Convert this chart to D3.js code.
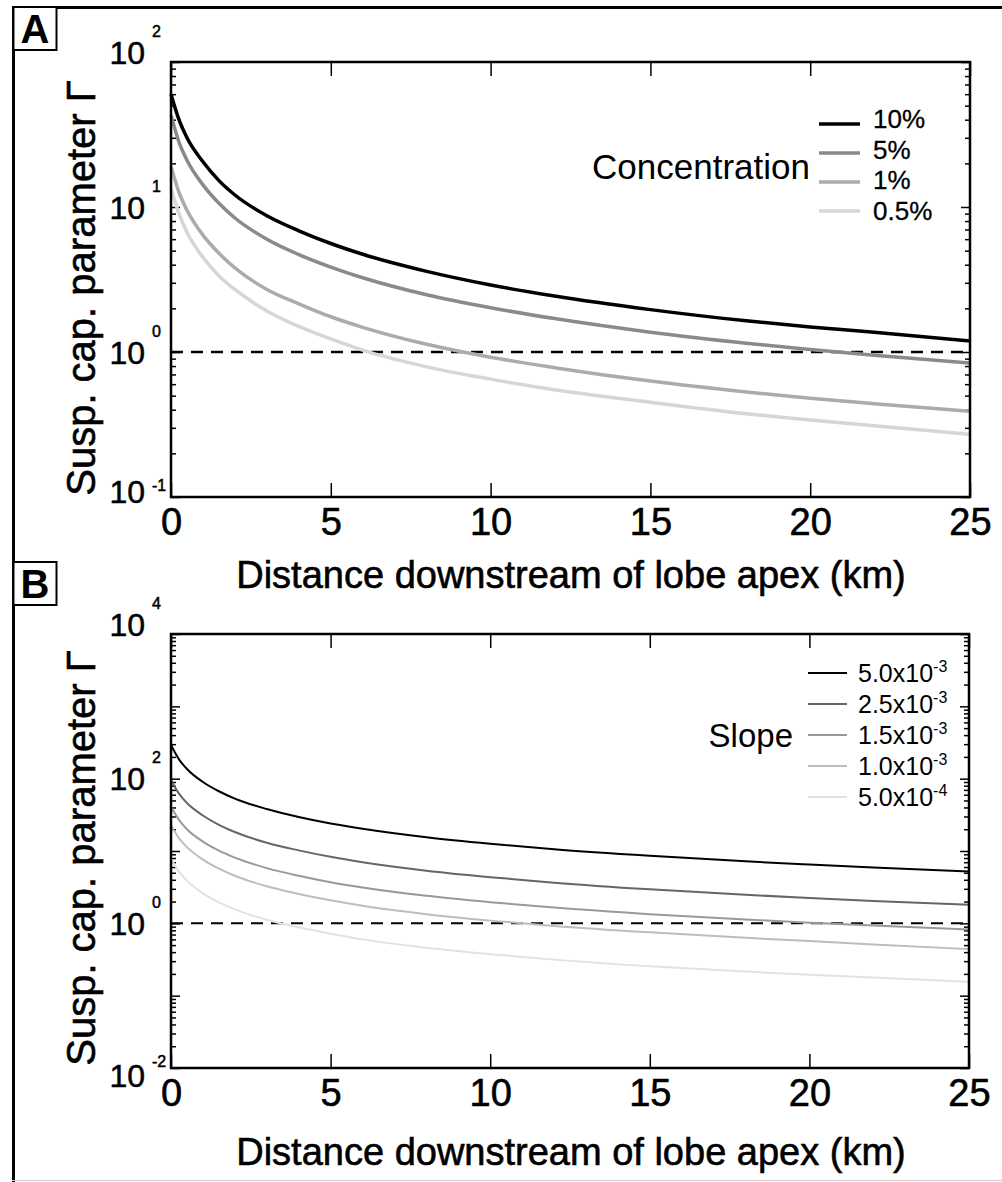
<!DOCTYPE html>
<html>
<head>
<meta charset="utf-8">
<script src="https://cdn.jsdelivr.net/npm/d3@7"></script>
<style>
  body { margin: 0; background: #fff; }
  svg { display: block; font-family: "Liberation Sans", Arial, sans-serif; }
</style>
</head>
<body>
<div id="chart"></div>
<script>
// distance downstream of lobe apex (km), shared by every curve
var distance = [0, 0.25, 0.5, 1, 1.5, 2, 3, 4, 5, 6, 8, 10, 12, 15, 18, 20, 22, 25];

// panel A: concentration
var concLabels = ["10%", "5%", "1%", "0.5%"];
var concColors = ["#000000", "#8a8a8a", "#ababab", "#d6d6d6"];
var conc10  = [60, 40, 30, 20.5, 15.2, 12.1, 8.7, 6.85, 5.6, 4.72, 3.6, 2.9, 2.43, 1.96, 1.64, 1.49, 1.37, 1.19];
var conc5   = [43, 28, 21, 14.2, 10.6, 8.4, 6.0, 4.7, 3.85, 3.25, 2.48, 2.02, 1.7, 1.37, 1.15, 1.04, 0.95, 0.84];
var conc1   = [19, 12.6, 9.5, 6.4, 4.8, 3.8, 2.7, 2.15, 1.75, 1.48, 1.13, 0.92, 0.78, 0.63, 0.53, 0.48, 0.44, 0.39];
var conc05  = [13.4, 9, 6.7, 4.5, 3.35, 2.7, 1.92, 1.5, 1.23, 1.03, 0.79, 0.65, 0.55, 0.45, 0.375, 0.34, 0.31, 0.27];

// panel B: slope
var slopeMant = ["5.0x10", "2.5x10", "1.5x10", "1.0x10", "5.0x10"];
var slopeExp = ["-3", "-3", "-3", "-3", "-4"];
var slopeColors = ["#000000", "#666666", "#999999", "#bdbdbd", "#e2e2e2"];
var slope50 = [292, 185, 136, 90, 67, 53, 38, 29.5, 24, 20.3, 15.5, 12.6, 10.6, 8.6, 7.2, 6.5, 5.9, 5.2];
var slope25 = [96, 62, 46, 31, 23, 18.3, 13, 10.2, 8.3, 7.0, 5.35, 4.35, 3.65, 2.95, 2.48, 2.24, 2.04, 1.8];
var slope15 = [40.5, 27, 20, 13.5, 10.1, 8.1, 5.8, 4.55, 3.7, 3.13, 2.4, 1.96, 1.65, 1.34, 1.13, 1.02, 0.93, 0.82];
var slope10 = [22.8, 15, 11.3, 7.6, 5.7, 4.55, 3.25, 2.55, 2.08, 1.75, 1.34, 1.09, 0.92, 0.75, 0.63, 0.57, 0.51, 0.44];
var slope05 = [7.8, 5.2, 3.9, 2.6, 1.95, 1.56, 1.12, 0.88, 0.72, 0.6, 0.46, 0.375, 0.315, 0.255, 0.215, 0.195, 0.178, 0.155];

var xTicks = [0, 5, 10, 15, 20, 25];
var yTicksA = [-1, 0, 1, 2];      // exponents
var yTicksB = [-2, 0, 2, 4];

var width = 1002, height = 1182;
var svg = d3.select("#chart").append("svg")
    .attr("width", width)
    .attr("height", height);

svg.append("rect").attr("width", width).attr("height", height).attr("fill", "#fff");

// outer border of the figure
svg.append("line").attr("x1", 12).attr("x2", width).attr("y1", 7.5).attr("y2", 7.5)
    .attr("stroke", "#000").attr("stroke-width", 3);
svg.append("line").attr("x1", 13.5).attr("x2", 13.5).attr("y1", 6).attr("y2", height)
    .attr("stroke", "#000").attr("stroke-width", 3);
svg.append("line").attr("x1", 12).attr("x2", width).attr("y1", 1180.5).attr("y2", 1180.5)
    .attr("stroke", "#ccc").attr("stroke-width", 1);

function drawPanel(p) {
    var x = d3.scaleLinear().domain([0, 25]).range([p.left, p.right]);
    var y = d3.scaleLog().domain([Math.pow(10, p.expMin), Math.pow(10, p.expMax)]).range([p.bottom, p.top]);
    var g = svg.append("g");

    // minor/major log ticks on left and right
    var minor = [], major = [];
    for (var e = p.expMin; e <= p.expMax; e++) {
        major.push(Math.pow(10, e));
        if (e < p.expMax) {
            for (var m = 2; m <= 9; m++) minor.push(m * Math.pow(10, e));
        }
    }
    g.append("g").attr("transform", "translate(" + p.left + ",0)")
        .call(d3.axisLeft(y).tickValues(minor).tickSize(-5).tickSizeOuter(0).tickFormat(""));
    g.append("g").attr("transform", "translate(" + p.right + ",0)")
        .call(d3.axisRight(y).tickValues(minor).tickSize(-5).tickSizeOuter(0).tickFormat(""));
    g.append("g").attr("transform", "translate(" + p.left + ",0)")
        .call(d3.axisLeft(y).tickValues(major).tickSize(-9).tickSizeOuter(0).tickFormat(""));
    g.append("g").attr("transform", "translate(" + p.right + ",0)")
        .call(d3.axisRight(y).tickValues(major).tickSize(-9).tickSizeOuter(0).tickFormat(""));

    // x axis bottom with labels, top ticks only
    var xb = g.append("g").attr("transform", "translate(0," + p.bottom + ")")
        .call(d3.axisBottom(x).tickValues(xTicks).tickSize(-14).tickSizeOuter(0).tickPadding(11));
    xb.selectAll("text").attr("font-size", 38).attr("fill", "#000")
        .attr("stroke", "#000").attr("stroke-width", 0.6)
        .attr("font-family", "Liberation Sans, Arial, sans-serif");
    g.append("g").attr("transform", "translate(0," + p.top + ")")
        .call(d3.axisTop(x).tickValues(xTicks).tickSize(-14).tickSizeOuter(0).tickFormat(""));
    g.selectAll(".tick line").attr("stroke", "#000").attr("stroke-width", 1.5);
    g.selectAll(".domain").remove();

    // y tick labels 10^n
    p.yTicks.forEach(function(e) {
        var ty = y(Math.pow(10, e));
        var shift = 0;
        if (e == p.expMax) shift = -10;
        if (e == p.expMin) shift = p.bottomShift;
        var base = ty + shift + 11.5;
        g.append("text").attr("x", 145).attr("y", base).attr("text-anchor", "end")
            .attr("font-size", 32).attr("stroke", "#000").attr("stroke-width", 0.5).text("10");
        g.append("text").attr("x", 152).attr("y", e == p.expMin ? base - p.supLow : base - 27)
            .attr("font-size", 16).attr("stroke", "#000").attr("stroke-width", 0.5).text(e);
    });

    // dashed line at Gamma = 1
    g.append("line").attr("x1", x(0)).attr("x2", x(25)).attr("y1", y(1)).attr("y2", y(1))
        .attr("stroke", "#000").attr("stroke-width", p.dashWidth).attr("stroke-dasharray", "12,8");

    // curves
    var line = d3.line()
        .x(function(d) { return x(d[0]); })
        .y(function(d) { return y(d[1]); })
        .curve(d3.curveMonotoneX);
    for (var i = p.series.length - 1; i >= 0; i--) {
        var pts = distance.map(function(dv, j) { return [dv, p.series[i][j]]; });
        g.append("path").datum(pts).attr("d", line)
            .attr("fill", "none").attr("stroke", p.colors[i]).attr("stroke-width", p.lineWidth);
    }

    // frame
    g.append("rect").attr("x", p.left).attr("y", p.top)
        .attr("width", p.right - p.left).attr("height", p.bottom - p.top)
        .attr("fill", "none").attr("stroke", "#000").attr("stroke-width", 2.5);

    // axis titles
    g.append("text").attr("x", 571).attr("y", p.xTitleY).attr("text-anchor", "middle")
        .attr("font-size", 38).attr("stroke", "#000").attr("stroke-width", 0.6)
        .text("Distance downstream of lobe apex (km)");
    g.append("text").attr("transform", "translate(95," + p.yTitleY + ") rotate(-90)")
        .attr("text-anchor", "middle").attr("font-size", 40)
        .attr("stroke", "#000").attr("stroke-width", 0.6)
        .text("Susp. cap. parameter \u0393");

    // panel letter box
    g.append("rect").attr("x", 13.5).attr("y", p.boxY).attr("width", 43).attr("height", 43)
        .attr("fill", "#fff").attr("stroke", "#000").attr("stroke-width", 2);
    g.append("text").attr("x", 35).attr("y", p.boxY + 36).attr("text-anchor", "middle")
        .attr("font-size", 40).attr("font-weight", "bold").text(p.letter);
    return g;
}

var gA = drawPanel({
    left: 171, right: 970, top: 62, bottom: 497,
    expMin: -1, expMax: 2, yTicks: yTicksA, bottomShift: -6, supLow: 12,
    series: [conc10, conc5, conc1, conc05], colors: concColors,
    lineWidth: 3.5, dashWidth: 2.5,
    xTitleY: 588, yTitleY: 288, boxY: 7, letter: "A"
});

var gB = drawPanel({
    left: 171, right: 969, top: 634, bottom: 1068,
    expMin: -2, expMax: 4, yTicks: yTicksB, bottomShift: 7, supLow: 20,
    series: [slope50, slope25, slope15, slope10, slope05], colors: slopeColors,
    lineWidth: 2, dashWidth: 2,
    xTitleY: 1165, yTitleY: 858, boxY: 562, letter: "B"
});

// legend A
gA.append("text").attr("x", 810).attr("y", 179).attr("text-anchor", "end")
    .attr("font-size", 35).text("Concentration");
concLabels.forEach(function(d, i) {
    var ly = 124 + i * 29;
    gA.append("line").attr("x1", 819).attr("x2", 860).attr("y1", ly).attr("y2", ly)
        .attr("stroke", concColors[i]).attr("stroke-width", 3.5);
    gA.append("text").attr("x", 873).attr("y", 128 + i * 30.5).attr("font-size", 26)
        .attr("stroke", "#000").attr("stroke-width", 0.3).text(d);
});

// legend B
gB.append("text").attr("x", 793).attr("y", 747).attr("text-anchor", "end")
    .attr("font-size", 33).text("Slope");
slopeMant.forEach(function(d, i) {
    var ly = 673 + i * 31;
    gB.append("line").attr("x1", 808).attr("x2", 847).attr("y1", ly).attr("y2", ly)
        .attr("stroke", slopeColors[i]).attr("stroke-width", 2);
    var t = gB.append("text").attr("x", 858).attr("y", ly + 9).attr("font-size", 25);
    t.append("tspan").text(d);
    t.append("tspan").attr("font-size", 16).attr("dy", -10).text(slopeExp[i]);
});
</script>
</body>
</html>
